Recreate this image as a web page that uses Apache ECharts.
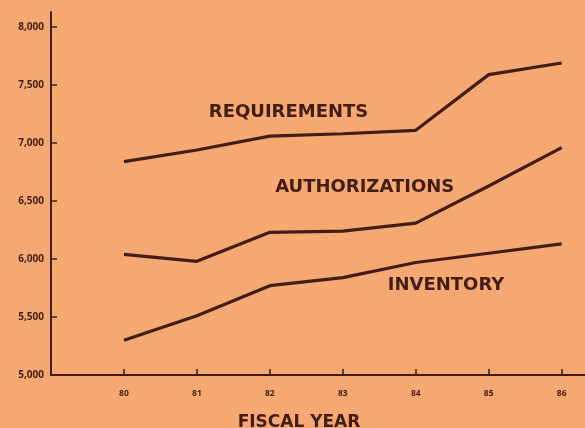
<!DOCTYPE html>
<html><head><meta charset="utf-8">
<script src="https://cdn.jsdelivr.net/npm/echarts@6/dist/echarts.min.js"></script>
<style>html,body{margin:0;padding:0;background:#f6a872;}#c{width:585px;height:428px;}</style>
</head><body><div id="c"></div>
<script>
const years = [80, 81, 82, 83, 84, 85, 86];
const requirements = [6840, 6940, 7060, 7080, 7110, 7590, 7690];
const authorizations = [6040, 5980, 6230, 6240, 6310, 6630, 6960];
const inventory = [5300, 5510, 5770, 5840, 5970, 6050, 6130];
const yTicks = [5000, 5500, 6000, 6500, 7000, 7500, 8000];
const seriesNames = ['REQUIREMENTS', 'AUTHORIZATIONS', 'INVENTORY'];
const labelPos = [[82.256, 7263], [83.30, 6621], [84.415, 5776]];

const ink = '#421d15';
const chart = echarts.init(document.getElementById('c'));
const mk = (name, vals, pos) => ({
  name, type: 'line', data: years.map((y, i) => [y, vals[i]]),
  symbol: 'none', lineStyle: { color: ink, width: 3.2 }, silent: true,
  markPoint: {
    symbol: 'circle', symbolSize: 0, silent: true,
    label: { show: true, formatter: name, color: ink, fontFamily: 'DejaVu Sans', fontWeight: 'bold', fontSize: 18, align: 'center', verticalAlign: 'middle', position: 'inside' },
    data: [{ coord: pos }]
  }
});
chart.setOption({
  backgroundColor: '#f6a872',
  animation: false,
  grid: { left: 51, right: 0, top: 12, bottom: 53 },
  title: { text: 'FISCAL YEAR', left: 294, top: 409, textAlign: 'center',
    textStyle: { color: ink, fontFamily: 'DejaVu Sans', fontWeight: 'bold', fontSize: 17 } },
  xAxis: {
    type: 'value', min: 79, max: 86.32,
    axisLine: { lineStyle: { color: ink, width: 2 } },
    splitLine: { show: false },
    axisTick: { inside: true, length: 6, lineStyle: { color: ink, width: 1.5 }, customValues: years },
    axisLabel: { customValues: years, color: ink, fontFamily: 'Open Sans', fontSize: 8.5, fontWeight: 'bold', margin: 14, formatter: v => String(v) }
  },
  yAxis: {
    type: 'value', min: 5000, max: 8130,
    axisLine: { show: true, lineStyle: { color: ink, width: 2 } },
    splitLine: { show: false },
    axisTick: { show: true, inside: true, length: 6, lineStyle: { color: ink, width: 1.5 }, customValues: yTicks.slice(1) },
    axisLabel: { customValues: yTicks, color: ink, fontFamily: 'Open Sans', fontSize: 10, fontWeight: 'bold', margin: 7,
      formatter: v => v.toLocaleString('en-US') }
  },
  series: [
    mk(seriesNames[0], requirements, labelPos[0]),
    mk(seriesNames[1], authorizations, labelPos[1]),
    mk(seriesNames[2], inventory, labelPos[2])
  ]
});
</script></body></html>
